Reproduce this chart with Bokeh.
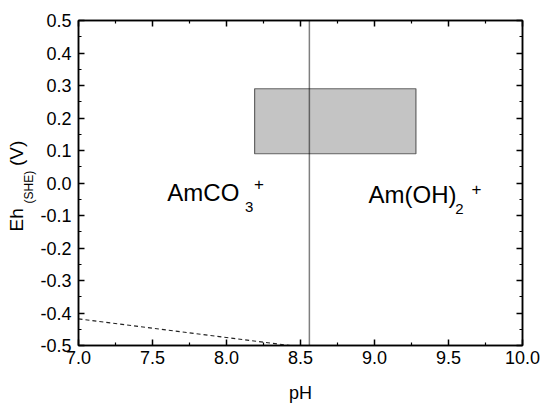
import math
from bokeh.plotting import figure
from bokeh.models import Range1d, LinearAxis, FixedTicker, PrintfTickFormatter, Span, Label, Title
from bokeh.embed import file_html
from bokeh.resources import INLINE

# ---- data ----
ph_major = [7.0, 7.5, 8.0, 8.5, 9.0, 9.5, 10.0]
ph_minor = [7.25, 7.75, 8.25, 8.75, 9.25, 9.75]
eh_major = [-0.5, -0.4, -0.3, -0.2, -0.1, 0.0, 0.1, 0.2, 0.3, 0.4, 0.5]
eh_minor = [-0.45, -0.35, -0.25, -0.15, -0.05, 0.05, 0.15, 0.25, 0.35, 0.45]

boundary_ph = 8.56                 # AmCO3+ / Am(OH)2+ boundary
window_ph = [8.19, 9.28]           # shaded box pH range
window_eh = [0.09, 0.29]           # shaded box Eh range
dash_ph = [7.0, 8.43]              # dashed line
dash_eh = [-0.418, -0.5]

FONT = "Liberation Sans"

p = figure(width=544, height=405, output_backend="svg", toolbar_location=None,
           x_range=Range1d(7.0, 10.0), y_range=Range1d(-0.5, 0.5),
           min_border_left=78, min_border_right=22, min_border_top=20, min_border_bottom=59,
           x_axis_location=None, y_axis_location=None)
p.background_fill_color = "white"
p.border_fill_color = "white"
p.outline_line_color = "black"
p.outline_line_width = 1.5
p.xgrid.visible = False
p.ygrid.visible = False

def style_axis(ax, ticks, minor, show_labels, standoff=5):
    ax.ticker = FixedTicker(ticks=ticks, minor_ticks=minor)
    ax.formatter = PrintfTickFormatter(format="%.1f")
    ax.axis_line_color = "black"
    ax.axis_line_width = 1.5
    ax.major_tick_line_color = "black"
    ax.major_tick_line_width = 1.5
    ax.minor_tick_line_color = "black"
    ax.minor_tick_line_width = 1.2
    ax.major_tick_in = 6
    ax.major_tick_out = 0
    ax.minor_tick_in = 3
    ax.minor_tick_out = 0
    ax.major_label_text_font = FONT
    ax.major_label_text_color = "black"
    if show_labels:
        ax.major_label_text_font_size = "18px"
        ax.major_label_standoff = standoff
    else:
        ax.major_label_text_font_size = "0px"
        ax.major_label_standoff = 0

xb = LinearAxis(); style_axis(xb, ph_major, ph_minor, True)
xb.axis_label = "pH"
xb.axis_label_text_font = FONT
xb.axis_label_text_font_size = "18px"
xb.axis_label_text_font_style = "normal"
xb.axis_label_text_color = "black"
xb.axis_label_standoff = 16
p.add_layout(xb, "below")
xt = LinearAxis(); style_axis(xt, ph_major, ph_minor, False); p.add_layout(xt, "above")
yl = LinearAxis(); style_axis(yl, eh_major, eh_minor, True, standoff=7); p.add_layout(yl, "left")
yr = LinearAxis(); style_axis(yr, eh_major, eh_minor, False); p.add_layout(yr, "right")

# y-axis title: Eh_(SHE) (V), built from two vertical titles
NB = "\u00a0"
t_sub = Title(text="(SHE)", text_font=FONT, text_font_size="12px", text_font_style="normal",
              text_color="black", align="left", vertical_align="bottom", offset=142, standoff=4)
t_main = Title(text="Eh" + NB * 8 + "(V)", text_font=FONT, text_font_size="19px",
               text_font_style="normal", text_color="black", align="left",
               vertical_align="bottom", offset=114, standoff=0)
try:
    t_main.standoff = -18
except Exception:
    pass
p.add_layout(t_sub, "left")
p.add_layout(t_main, "left")

# shaded box
p.quad(left=[window_ph[0]], right=[window_ph[1]], bottom=[window_eh[0]], top=[window_eh[1]],
       fill_color="#c4c4c4", line_color="#444444", line_alpha=0.8, line_width=1.2)

# dashed line
p.line(dash_ph, dash_eh, line_color="#222222", line_width=1.1, line_dash="4 3")

# vertical boundary
p.add_layout(Span(location=boundary_ph, dimension="height", line_color="black",
                  line_alpha=0.5, line_width=1.5))

def lab(x, y, t, size, align="left"):
    p.add_layout(Label(x=x, y=y, text=t, text_font=FONT, text_font_size=size,
                       text_color="black", text_align=align, text_baseline="alphabetic"))

# species labels
lab(7.60, -0.028, "AmCO", "24px")
lab(8.125, -0.074, "3", "15px")
lab(8.185, -0.004, "+", "17px")
lab(8.96, -0.034, "Am(OH)", "24px")
lab(9.545, -0.080, "2", "15px")
lab(9.655, -0.017, "+", "17px")

open("out.html", "w").write(file_html(p, INLINE))
